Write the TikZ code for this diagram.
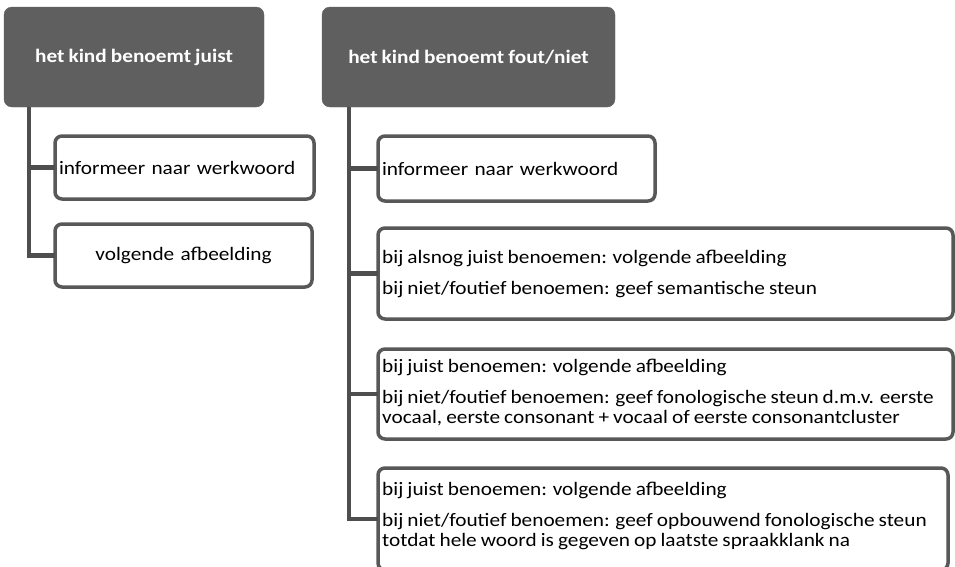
\documentclass[tikz,border=0pt]{standalone}
\usepackage{fontspec}
\setmainfont{Carlito}[FakeStretch=1.12, WordSpace=0.85]
\usetikzlibrary{positioning, calc}
\definecolor{headgray}{RGB}{95,95,95}
\definecolor{boxgray}{RGB}{88,88,88}
\definecolor{treegray}{RGB}{78,78,78}
\newcommand{\diafont}{\fontsize{19}{20}\selectfont}

\begin{document}
\begin{tikzpicture}[x=1pt, y=-1pt,
  head/.style={draw=headgray, fill=headgray, rounded corners=8pt, text=white, font=\diafont\bfseries, anchor=north west, minimum height=100pt, outer sep=0pt},
  leaf/.style={draw=boxgray, line width=3.5pt, fill=white, rounded corners=7pt, anchor=north west, inner xsep=4pt, inner ysep=0pt, outer sep=0pt, font=\diafont},
  txt/.style={inner sep=0pt, align=left, font=\diafont},
  tree/.style={draw=treegray, line width=4.5pt}]
  \clip (0,0) rectangle (955,566);

  % the two answers
  \node[head, minimum width=260pt] (juist) at (4,7) {het kind benoemt juist};
  \node[head, minimum width=293pt] (fout) at (322,7) {het kind benoemt fout/niet};

  % left column
  \node[leaf, text width=251pt, align=left, minimum height=63pt] (inf1) at (55,136) {informeer naar werkwoord};
  \node[leaf, text width=249pt, align=center, minimum height=63pt] (next1) at (55,224) {volgende afbeelding};

  \coordinate (stem1) at ($(juist.south west)+(25,0)$);
  \draw[tree] (stem1) |- (next1.west);
  \draw[tree] (stem1 |- inf1.west) -- (inf1.west);

  % right column
  \node[leaf, text width=269pt, align=left, minimum height=65pt] (inf2) at (378,136) {informeer naar werkwoord};
  \node[leaf, minimum width=575pt, minimum height=91pt] (sem) at (378,228) {};
  \node[txt, below right=22pt and 4pt of sem.north west] (semtxt) {bij alsnog juist benoemen: volgende afbeelding\\[10.5pt]
    bij niet/foutief benoemen: geef semantische steun};
  \node[leaf, minimum width=575pt, minimum height=90pt] (fon) at (378,349) {};
  \node[txt, below right=10pt and 4pt of fon.north west] (fontxt) {bij juist benoemen: volgende afbeelding\\[10.5pt]
    bij niet/foutief benoemen: geef fonologische steun d.m.v. eerste\\
    vocaal, eerste consonant + vocaal of eerste consonantcluster};
  \node[leaf, minimum width=570pt, minimum height=102pt] (opb) at (378,468) {};
  \node[txt, below right=14pt and 4pt of opb.north west] (opbtxt) {bij juist benoemen: volgende afbeelding\\[10.5pt]
    bij niet/foutief benoemen: geef opbouwend fonologische steun\\
    totdat hele woord is gegeven op laatste spraakklank na};

  \coordinate (stem2) at ($(fout.south west)+(27,0)$);
  \draw[tree] (stem2) |- (opb.west);
  \draw[tree] (stem2 |- inf2.west) -- (inf2.west);
  \draw[tree] (stem2 |- sem.west) -- (sem.west);
  \draw[tree] (stem2 |- fon.west) -- (fon.west);
\end{tikzpicture}
\end{document}
